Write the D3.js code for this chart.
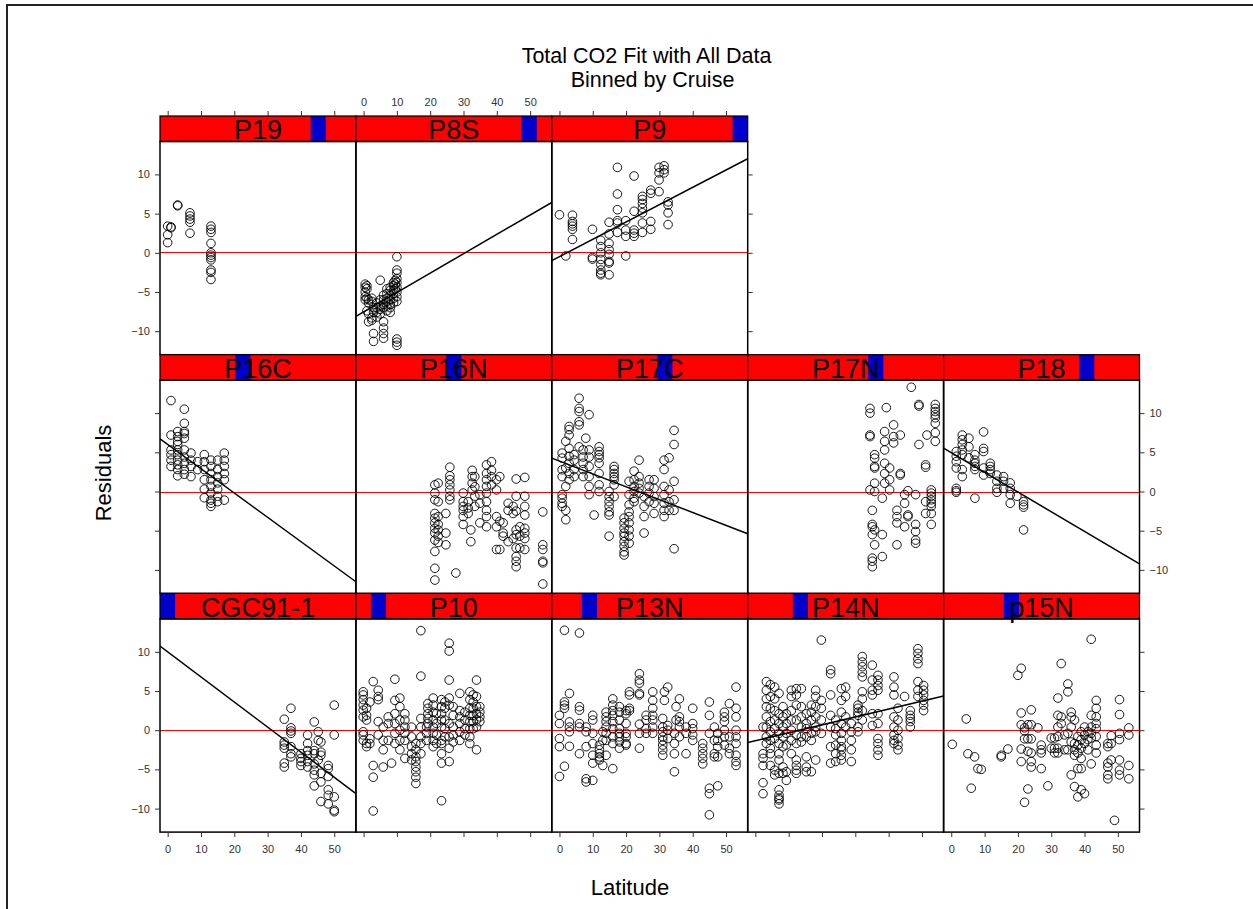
<!DOCTYPE html>
<html><head><meta charset="utf-8">
<script src="https://cdn.jsdelivr.net/npm/d3@7"></script>
<style>body{margin:0;background:#fff} text{font-family:"Liberation Sans",Arial,sans-serif}</style>
</head><body><svg id="c" width="1253" height="909"></svg>
<script>
// ---------- data ----------
const levels = ["CGC91-1","P10","P13N","P14N","p15N","P16C","P16N","P17C","P17N","P18","P19","P8S","P9"];
const layoutRows = [["P19","P8S","P9"],["P16C","P16N","P17C","P17N","P18"],["CGC91-1","P10","P13N","P14N","p15N"]];
const xTicks = [0,10,20,30,40,50];
const yTicks = [-10,-5,0,5,10];
const titleLines = ["Total CO2 Fit with All Data","Binned by Cruise"];
const xLabel = "Latitude", yLabel = "Residuals";
// fits: [cruise, intercept, slope]
const fits = [["P8S",-7.53,0.247],["P9",-0.49,0.221],["P16C",6.0,-0.31],["P17C",3.88,-0.164],["P18",4.95,-0.251],["CGC91-1",10.0,-0.32],["P14N",-1.34,0.101]];

// points grouped as [latitude, [residuals...]]
const P19 = [[0,[3.4,2.3,1.3]],[1,[3.3,3.2]],[3,[6.1,6.0]],[6.7,[5.1,4.7,4.3,3.9,2.5]],[13,[3.4,3.0,2.6,1.2,0,-0.3,-0.6,-0.9,-2.2,-2.5,-3.4]]];
const P8S = [[0.5,[-4.0,-4.4,-5.0,-5.6,-6.0]],[1,[-4.2,-4.6,-5.8,-7.4]],[1.5,[-6.0,-6.4,-7.8,-8.8]],[2.5,[-5.8,-6.2,-8.3,-8.6]],[3,[-10.3,-11.3,-7.0,-7.6]],[4,[-6.4,-7.0,-7.6,-8.2]],[5,[-3.5,-6.0,-6.8,-7.2,-7.8]],[6,[-5.4,-6.0,-6.6,-7.0,-8.8,-9.6,-10.3,-10.9]],[7,[-4.6,-5.2,-5.8,-6.2,-6.8,-7.4]],[8,[-4.4,-4.8,-5.4,-6.0,-6.6,-7.0,-7.6]],[9,[-3.8,-4.2,-4.8,-5.2,-5.8,-6.4]],[9.5,[-3.5,-4.0,-4.6]],[10,[-0.5,-2.2,-2.6,-3.3,-3.8,-4.4,-5.0,-5.6,-6.2,-11.0,-11.4,-11.8]]];
const P9 = [[0,[4.85]],[1.9,[-0.4]],[3.9,[4.8,4.0,3.7,3.4,3.0,1.7]],[9.9,[3.0,-0.6,-0.8]],[12.4,[1.6,0.8,0,-0.85,-1.5,-2.2,-2.6,-2.8]],[14.9,[3.9,2.4,1.2,0.4,-0.2,-1.1,-1.3,-2.8]],[17.4,[10.9,7.5,5.5,4.1,3.8,2.6]],[19.9,[4.1,2.9,2.1,-0.4]],[22.4,[9.8,5.3,2.9,2.5,2.1]],[24.9,[7.2,6.8,6.3,5.7,5.1,3.8,2.6]],[27.4,[8.0,7.6,4.0,3.0]],[29.9,[10.9,10.2,9.3,7.8]],[31.4,[11.1,10.6,10.2]],[32.6,[6.5,6.1,5.1,3.6]]];
const P16C = [[1,[11.6,7.2,5.3,4.7,4.0,3.2]],[3,[7.65,7.0,6.4,6.0,5.3,4.7,4.0,3.4,2.8,2.0]],[5,[10.5,8.7,7.65,7.4,6.8,5.3,4.4,3.6,2.8,2.2]],[7,[4.9,4.0,3.2,1.9]],[9,[3.8,2.8]],[11,[4.7,3.8,2.8,1.5,0.3,-0.8]],[13,[4.0,3.2,2.3,1.5,0.65,-0.2,-1.1,-1.5,-1.9]],[15,[4.0,2.8,1.9,1.1,0.3,-0.6,-1.3]],[17,[4.9,4.0,3.2,2.3,1.5,-1.1]]];
const P16N = [[21.4,[0.85,-0.2,-1.06,-2.8,-3.4,-4.0,-4.7,-5.3,-6.2,-7.65,-9.8,-11.3]],[22.4,[1.06,-1.3,-3.2,-4.2,-4.9,-5.7,-6.5]],[24.7,[-2.8,-5.3,-6.8]],[25.9,[3.1,2.0,1.5,0.85,0.2,-0.6,-1.06]],[27.7,[-10.4]],[29.9,[-0.2,-1.3,-1.9,-2.4,-3.2,-4.2]],[31.4,[-1.3,-2.1,-2.8]],[32.2,[-4.9,-6.4]],[32.6,[2.7,1.9,1.06,0.2]],[33.4,[1.9,0.6,-0.6,-1.9]],[34.9,[-0.4,-1.5,-4.0]],[36.9,[3.4,2.3,1.5,0.65,-0.2,-1.3,-2.4,-3.2,-4.5]],[38.4,[3.8,2.7,1.9,0.85]],[39.9,[1.5,0.2,-3.2,-4.5,-7.4]],[40.9,[1.9,-3.8,-7.4]],[41.9,[-4.0,-5.3,-5.7]],[43.4,[-1.5,-2.4,-6.4]],[44.9,[-1.9,-2.8,-6.0]],[45.8,[1.6,-0.6,-2.5,-4.9,-5.5,-7.2,-8.3,-8.9,-9.6]],[46.9,[-4.5,-5.7,-7.2]],[48.4,[1.8,-0.6,-1.9,-3.0,-4.7,-5.3,-6.0,-7.4]],[53.8,[-2.6,-6.8,-7.4,-8.9,-9.1,-11.8]]];
const P17C = [[0.8,[4.9,4.26,2.77,1.9,-0.4,-0.85,-1.5,-1.9]],[1.9,[6.4,3.0,0.65,-2.4,-3.6]],[2.9,[8.3,7.9,7.2,5.5,4.5,3.6,2.3,1.5]],[4.4,[4.7,4.0,2.8,1.9]],[5.9,[11.9,10.6,10.2,8.9,8.5,5.7]],[7.1,[5.3,4.4,3.6,2.8,1.9]],[7.9,[6.8]],[8.9,[9.8,5.3,4.4,3.2,1.9,0.65,-0.4]],[10.4,[-3.0]],[11.9,[5.7,5.1,4.7,4.3,3.6,2.3,0.85,0]],[14.9,[0,-0.65,-1.3,-1.9,-2.6,-3.0,-5.7]],[16.4,[3.2,2.8,2.3,1.9,1.5,0.85,-0.65]],[19.4,[-3.4,-4.0,-4.7,-5.3,-5.7,-6.4,-7.0,-7.7,-8.1]],[20.9,[1.3,-0.4,-1.7,-2.6,-3.2,-4.0,-4.9,-5.7,-6.6]],[22.4,[2.6,1.5,0.65,0,-0.85,-1.3]],[23.9,[4.0,1.9,1.06,0.4,-0.2]],[25.4,[-0.65,-1.9,-3.2,-5.3]],[26.9,[1.5,0.65,-0.2,-1.3]],[28.4,[1.5,0.4,-0.65,-1.5,-2.8]],[31.4,[4.0,2.8,0.65,-0.4,-1.5,-2.4,-3.2]],[32.9,[4.3,0.2,-1.3,-2.4]],[34.4,[7.8,6.0,1.3,-1.06,-2.4,-7.3]]];
const P17N = [[34.4,[10.6,10.0,7.2,7.0,0.2]],[35.1,[-2.4,-4.2,-4.5,-5.5,-8.5,-8.9,-9.6]],[35.8,[4.7,4.26,3.2,3.0,1.06,0,-4.9,-6.8]],[38.1,[-0.85,-5.5,-8.3]],[38.8,[7.65,6.4,5.3,3.6,2.3,1.06]],[39.3,[10.7]],[40.3,[3.0,1.5,0.2]],[41.5,[8.5,7.0,6.2]],[42.5,[-2.4,-3.2,-4.0,-6.8]],[43.5,[7.2,2.3,2.1]],[44.8,[-0.4,-1.5,-4.5]],[45.8,[0.1,-3.0,-3.2]],[46.8,[13.3]],[48.1,[-0.4,-4.2,-5.1,-6.2,-6.6]],[49.1,[11.1,10.9,6.0]],[51.1,[3.4,3.1,-1.3,-2.8]],[51.5,[7.2]],[52.8,[0.2,-0.2,-0.6,-1.06,-1.5,-1.9,-2.8,-4.2]],[54.0,[11.1,10.6,10.2,9.8,9.4,8.7,7.5,6.4]]];
const P18 = [[1.5,[5.1,4.5,3.8,3.0,0.4,0.1,-0.1]],[3.3,[7.2,6.6,6.0,5.3,4.7,2.8,1.9]],[5.3,[6.8,5.7,4.3]],[7.1,[4.7,4.0,3.6,3.2,2.8,-0.85]],[9.7,[7.6,5.5,5.1,3.0,2.1]],[11.7,[3.6,3.2,2.8,2.3]],[13.7,[2.1,1.3,0.4,-0.1]],[15.7,[1.9,1.3,0.4]],[17.7,[1.1,0.4,-0.4,-1.5]],[19.7,[-0.6]],[21.7,[-1.3,-1.7,-2.0,-4.9]]];
const CGC91_1 = [[35,[1.4,-1.5,-1.9,-2.3,-4.2,-4.7]],[37,[2.8,0.3,-0.1,-0.4,-2.1,-3.0,-3.4]],[40,[-3.0,-3.6,-4.0,-4.5]],[42,[-0.6,-1.7,-2.6,-3.2,-4.0,-4.7]],[44,[1.06,-2.6,-3.0,-4.3,-5.1,-5.7,-7.1]],[45.2,[-0.2,-1.3,-3.8]],[46,[-1.5,-2.8,-3.2,-5.5,-6.6,-9.1]],[48.2,[-4.5,-4.9,-5.9,-7.6,-8.3,-9.4]],[50,[3.2,-0.6,-8.5,-10.2,-10.4]]];
const P10 = [[-0.1,[4.9,4.5,3.9,3.2,2.55,1.7,-0.2,-0.6,-1.3]],[0.9,[2.8,1.9,1.3,-1.7,-2.1]],[1.9,[3.6,-1.1,-1.7]],[2.9,[6.2,-4.5,-6.0,-10.3]],[4.4,[5.1,4.3,3.9,1.1,-0.6]],[5.9,[0.4,-1.3,-2.5,-4.7]],[7.4,[1.7,0.85,-1.3]],[8.4,[-4.2]],[9.4,[6.5,3.8,2.1,0.85,-0.4,-1.7]],[10.9,[4.1,3.0,1.3,0,-1.3,-2.5]],[12.4,[2.1,1.3,0.4,-0.4,-1.3,-3.6]],[14.4,[0.4,-0.85,-2.1,-3.0,-3.8]],[15.7,[-1.7,-2.5,-3.4,-4.0,-4.7,-5.3,-6.0,-6.8]],[17.2,[12.7,6.9,1.5,0.4,-0.85,-1.7,-3.0]],[18.9,[0.4,-0.4,-1.3]],[19.3,[3.4,2.8,2.1,1.5,0.85]],[20.9,[4.1,3.2,2.3,1.3,0.4,-0.4,-1.3,-2.1]],[21.9,[2.1,0.85,-0.6,-1.7]],[23.4,[3.9,3.0,2.1,1.3,0.4,-1.3,-1.7,-3.0,-4.2,-9.0]],[24.4,[3.6,2.8,1.3,0.2,-0.85]],[25.7,[11.1,10.1,6.4,4.1,3.2,0.85,-0.85,-2.3,-4.0]],[26.9,[3.0,1.9,0.4,-0.6,-1.5]],[28.9,[4.7,2.5,1.7,0.85,-0.2,-1.3]],[30.4,[2.3,1.3,0.2,-0.6]],[31.9,[4.9,3.9,2.8,1.9,1.1,0.2,-0.85,-1.7]],[32.9,[4.5,3.6,2.8,1.9,1.1,0.2]],[33.9,[6.4,4.3,3.0,2.1,1.3,0.4,-2.5]],[34.9,[3.0,2.3,1.7,1.1]]];
const P13N = [[0,[1.9,0.85,-1.06,-2.1,-5.9]],[1.5,[12.75,3.6,3.2,2.8,-4.6]],[3,[4.7,1.06,0.4,-0.2,-2.05]],[6,[12.4,3.0,2.55,0.85,0.4,-3.0]],[8,[0.4,-0.2,-2.1,-6.2,-6.6]],[10,[1.9,1.3,-0.4,-1.7,-3.2,-4.2,-6.4]],[12,[-1.9,-2.5,-3.0,-3.4,-3.8]],[13,[-0.2,-1.3,-4.5]],[14,[2.3,1.7,1.1,0.4,-0.4,-1.3,-3.2]],[16,[4.0,3.2,2.5,1.9,1.1,0.2,-0.85,-1.7,-4.9]],[18,[3.0,2.3,1.3,0.2,-0.4,-0.85,-1.5,-2.3]],[20,[2.5,2.1,0.85,-0.4,-0.85,-1.7,-1.9]],[21,[4.9,4.5,2.8,2.5]],[24,[7.2,6.4,6.0,4.7,4.5,0.77,-0.4,-2.3]],[26,[1.9,1.3,0.2,-0.4]],[28,[4.9,3.8,2.8,1.9,1.3,0.4,-0.4]],[31,[1.5,0.4,-0.2,-0.85,-1.3,-1.9,-2.5,-3.2]],[31.5,[4.9,3.8]],[32.5,[5.5,0.6,0,-1.06]],[34.5,[-0.4,-1.7,-3.0,-5.3]],[35,[3.0,1.3]],[36,[4.0,1.7,1.1,0.4,-0.85]],[38,[0.4,-0.4,-3.0]],[40,[2.8,0.85,0.2,-0.6,-1.3]],[43,[-1.7,-2.3,-3.0,-3.6,-4.3]],[45,[3.6,1.9,-0.4,-7.4,-8.1,-10.8]],[46.5,[0.4,-1.3,-3.0,-3.4]],[47.5,[-0.4,-1.3,-2.1,-3.4,-7.1]],[49.5,[2.3,1.7,1.1,0,-0.85,-1.9]],[51,[3.4,-0.85,-2.3,-3.0]],[53,[5.5,2.8,1.7,0,-0.85,-1.7,-3.2,-4.0,-4.5]]];
const P14N = [[2.3,[0.4,-3.0,-3.6,-4.5,-6.7,-8.1]],[3.3,[6.2,5.1,4.0,3.0,1.7,0.4,-0.85,-1.7]],[4.5,[5.8,4.3,2.8,1.1,-0.2,-1.3,-2.3,-3.0,-4.5]],[5.8,[5.5,4.0,2.5,1.3,0.2,-1.06,-5.1,-5.7]],[7.1,[4.7,2.1,0.85,-0.4,-1.7,-3.0,-3.8,-5.5,-7.6,-8.3,-8.7,-8.9,-9.4]],[8.3,[3.0,1.7,0.4,-0.85,-2.1,-4.7,-5.5]],[9.3,[2.1,0.85,-0.4,-1.9,-5.3,-6.4]],[10.8,[5.1,4.3,2.5,1.3,0,-1.3,-3.0]],[12.3,[5.3,4.5,3.2,1.3,-0.6,-1.7,-3.8,-4.5,-5.1,-5.5]],[13.8,[5.3,3.0,1.7,0.4,-0.85,-1.5]],[15.3,[2.1,0.85,0.2,-0.85,-3.4,-4.7,-5.3]],[16.8,[3.2,2.3,1.3,-0.4,-1.3,-5.3]],[18.1,[5.1,4.3,3.0,1.7,0.4,-0.2,-3.8]],[19.8,[11.5,3.8,2.8,1.3,-0.4]],[22.6,[7.7,7.2,4.5,1.9,0.4,-2.1,-4.2]],[24.1,[1.3,0.2,-0.6,-1.9,-3.0,-4.0]],[25.8,[5.3,3.8,2.3,0.85,-0.4,-1.3,-2.1,-2.5,-3.2,-3.8]],[27.1,[5.5,4.3,1.7,0.4]],[28.8,[0.85,-0.2,-1.3,-2.5,-4.0]],[30.8,[3.2,2.8,2.3,1.9,0.4,-0.2]],[32.1,[9.4,8.7,8.1,7.4,6.8,4.9,4.0,2.5,1.3]],[35.1,[8.3,6.4,5.1,4.5,2.1,0.6]],[36.8,[7.0,6.4,5.7,5.1,2.1,0.85,-1.06,-1.7,-2.5,-3.2]],[41.6,[6.8,5.5,4.5,1.7,0.4,-0.6,-1.3,-1.7]],[42.8,[2.8,1.3,0,-1.06,-1.9,-2.5]],[44.8,[4.3]],[46.5,[2.5,1.9,1.5,1.1,0.4]],[48.8,[10.4,9.8,9.1,8.5,6.2,5.1,4.3]],[50.5,[5.7,5.1,4.5,3.8,3.2,2.5]]];
const p15N = [[0.3,[-1.8]],[4.5,[1.44]],[5,[-3.0]],[6,[-7.4]],[7,[-3.4]],[8,[-4.9]],[9,[-5.0]],[15,[-3.4,-3.2]],[17,[-2.4]],[20,[7.0]],[21,[7.9,2.2,0.7,-2.4,-4.0]],[22,[0.3,-0.1,-1.1,-9.2]],[23,[0.7,-1.1,-2.7,-7.5]],[24,[2.6,0.7,-1.1,-2.9,-4.0,-4.7]],[26,[0.3]],[27,[-1.9,-2.5,-2.9,-4.9]],[29,[-7.1]],[30,[-1.0,-2.3]],[31,[-1.0,-2.3,-2.9]],[32,[4.1,1.9,0.4,-0.8,-2.3,-2.9]],[33,[8.5,1.7,0.85]],[34,[-0.6,-2.5]],[35,[5.9,4.9,-0.4,-2.5]],[36,[2.3,1.7,0.4,-1.5,-5.7]],[37,[1.3,-1.7,-2.5,-3.2,-7.2]],[38,[-0.8,-1.9,-2.9,-4.9,-8.5]],[39,[-0.2,-1.2,-2.3,-3.6,-4.9,-7.6]],[40,[0.4,-0.6,-1.7,-8.1]],[41,[-0.2,-1.2,-2.5]],[42,[11.6,1.9,0.4,-0.4,-1.0,-4.3]],[43.5,[3.8,2.8,1.7,0.85,0.2,-0.8,-1.9,-2.9]],[47,[-1.7,-2.1,-4.2,-4.7,-5.7,-6.2]],[48,[-0.7,-1.7,-3.8]],[49,[-11.5]],[50.5,[3.9,2.0,-0.4,-1.2,-3.8,-5.1,-5.7]],[53.3,[0.3,-0.6,-4.5,-6.2]]];

const panelData = {"P19":P19,"P8S":P8S,"P9":P9,"P16C":P16C,"P16N":P16N,"P17C":P17C,"P17N":P17N,"P18":P18,"CGC91-1":CGC91_1,"P10":P10,"P13N":P13N,"P14N":P14N,"p15N":p15N};

// ---------- layout ----------
const svg = d3.select("#c");
const colX0 = 160, colW = 195.9, top0 = 116, stripH = 25.5, panH = 213.2, rowStep = stripH + panH;
const xDomain = [-2.3, 56.5], yDomain = [-13.0, 14.2];
const tickColor = "#333";
const defs = svg.append("defs");

svg.append("rect").attr("x",7).attr("y",5).attr("width",1270).attr("height",930)
  .attr("fill","none").attr("stroke","#222").attr("stroke-width",2);

// titles
svg.append("text").attr("x",646.5).attr("y",63).attr("text-anchor","middle").attr("font-size",21.5).text(titleLines[0]);
svg.append("text").attr("x",652.5).attr("y",87).attr("text-anchor","middle").attr("font-size",21.5).text(titleLines[1]);
svg.append("text").attr("transform","translate(110.5,473) rotate(-90)").attr("text-anchor","middle").attr("font-size",22).text(yLabel);
svg.append("text").attr("x",630).attr("y",895).attr("text-anchor","middle").attr("font-size",22).text(xLabel);

const fitMap = new Map(fits.map(f => [f[0], f]));
const nRows = layoutRows.length;

layoutRows.forEach((row, r) => {
  row.forEach((name, c) => {
    const x0 = colX0 + c*colW, x1 = x0 + colW;
    const sTop = top0 + r*rowStep, pTop = sTop + stripH, pBot = pTop + panH;
    const x = d3.scaleLinear().domain(xDomain).range([x0, x1]);
    const y = d3.scaleLinear().domain(yDomain).range([pBot, pTop]);
    const g = svg.append("g");
    const clipId = "clip" + r + "_" + c;
    defs.append("clipPath").attr("id", clipId).append("rect")
      .attr("x", x0).attr("y", pTop).attr("width", colW).attr("height", panH);

    // strip
    const lvl = levels.indexOf(name), bw = colW / levels.length;
    g.append("rect").attr("x",x0).attr("y",sTop).attr("width",colW).attr("height",stripH).attr("fill","#ff0000");
    g.append("rect").attr("x",x0 + lvl*bw).attr("y",sTop).attr("width",bw).attr("height",stripH).attr("fill","#0000cc");
    g.append("rect").attr("x",x0).attr("y",sTop).attr("width",colW).attr("height",stripH)
      .attr("fill","none").attr("stroke","#000").attr("stroke-width",1.2);
    g.append("text").attr("x",(x0+x1)/2).attr("y",sTop+stripH-2.2).attr("text-anchor","middle")
      .attr("font-size",27).attr("fill","#000").text(name);

    const inner = g.append("g").attr("clip-path","url(#"+clipId+")");
    // zero reference line (snapped to an even pixel row)
    const yz = 2*Math.round((y(0) - 0.5)/2) + 0.5;
    inner.append("line").attr("x1",x0).attr("x2",x1).attr("y1",yz).attr("y2",yz)
      .attr("stroke","#ff0000").attr("stroke-width",1).attr("shape-rendering","crispEdges");
    // points
    const pts = panelData[name].flatMap(([lat, rs]) => rs.map(v => [lat, v]));
    inner.selectAll("circle").data(pts).join("circle")
      .attr("cx", d => x(d[0])).attr("cy", d => y(d[1])).attr("r", 4.3)
      .attr("fill","none").attr("stroke","#000").attr("stroke-width",0.9);
    // fit line
    if (fitMap.has(name)) {
      const [, b0, b1] = fitMap.get(name);
      inner.append("line").attr("x1",x(xDomain[0])).attr("y1",y(b0 + b1*xDomain[0]))
        .attr("x2",x(xDomain[1])).attr("y2",y(b0 + b1*xDomain[1]))
        .attr("stroke","#000").attr("stroke-width",1.5);
    }
    // panel border
    g.append("rect").attr("x",x0).attr("y",pTop).attr("width",colW).attr("height",panH)
      .attr("fill","none").attr("stroke","#000").attr("stroke-width",1.5);

    const styleAxis = (sel) => {
      sel.select(".domain").remove();
      sel.selectAll("line").attr("stroke", tickColor);
      sel.selectAll("text").attr("fill", tickColor).attr("font-size", 11)
        .attr("font-family","'Liberation Sans',Arial,sans-serif");
    };
    const noLab = () => "";
    if (r === 0) {
      const ax = d3.axisTop(x).tickValues(xTicks).tickSize(5).tickPadding(5.3);
      if (c % 2 === 0) ax.tickFormat(noLab);
      g.append("g").attr("transform","translate(0,"+sTop+")").call(ax).call(styleAxis);
    }
    if (r === nRows - 1) {
      const ax = d3.axisBottom(x).tickValues(xTicks).tickSize(5).tickPadding(8);
      if (c % 2 === 1) ax.tickFormat(noLab);
      g.append("g").attr("transform","translate(0,"+pBot+")").call(ax).call(styleAxis);
    }
    if (c === 0) {
      const ax = d3.axisLeft(y).tickValues(yTicks).tickSize(5).tickPadding(5);
      if (r % 2 === 1) ax.tickFormat(noLab);
      g.append("g").attr("transform","translate("+x0+",0)").call(ax).call(styleAxis);
    }
    if (c === row.length - 1) {
      const ax = d3.axisRight(y).tickValues(yTicks).tickSize(5).tickPadding(5);
      if (r % 2 === 0) ax.tickFormat(noLab);
      g.append("g").attr("transform","translate("+x1+",0)").call(ax).call(styleAxis);
    }
  });
});
</script></body></html>
